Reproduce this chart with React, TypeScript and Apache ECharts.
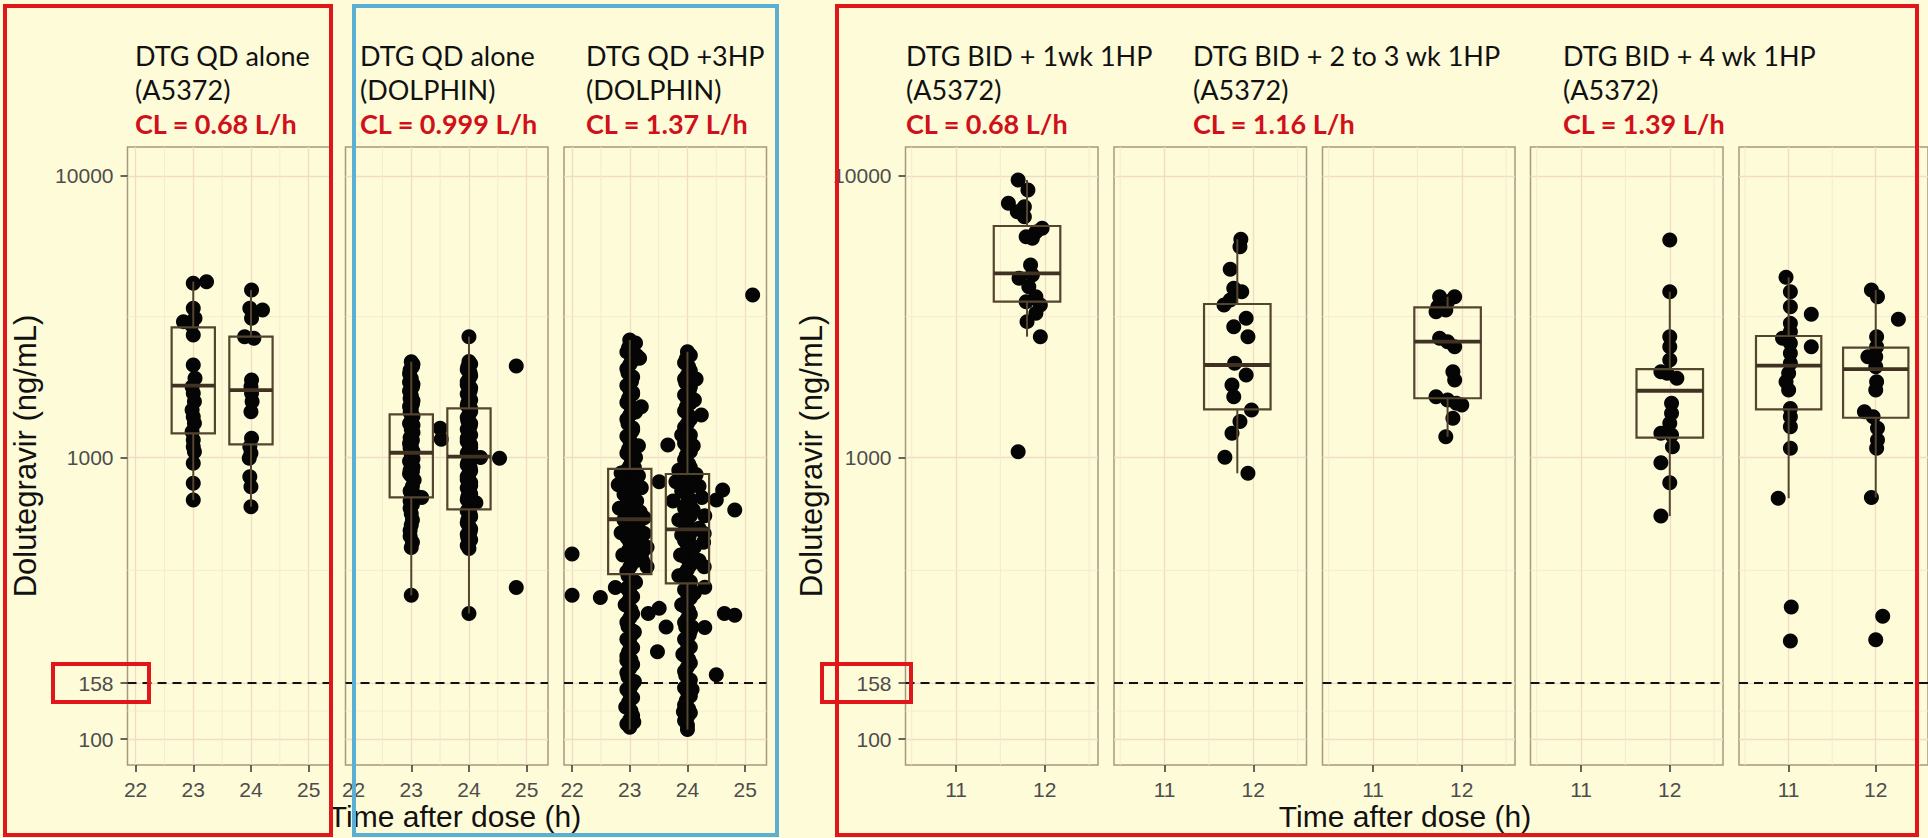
import { useEffect, useRef } from 'react';
import * as echarts from 'echarts';

// ---------------- data ----------------
const Y_TICKS = [100, 158, 1000, 10000];
const Y_MINOR = [125.7, 397, 3162];
const THRESHOLD = 158;
const LEFT_X_TICKS = [22, 23, 24, 25];
const LEFT_X_MINOR = [22.5, 23.5, 24.5];
const RIGHT_X_TICKS = [11, 12];
const RIGHT_X_MINOR = [10.5, 11.5, 12.5];

const X_TITLE = 'Time after dose (h)';
const Y_TITLE = 'Dolutegravir (ng/mL)';

const FACET_LINE1 = ['DTG QD alone', 'DTG QD alone', 'DTG QD +3HP', 'DTG BID + 1wk 1HP', 'DTG BID + 2 to 3 wk 1HP', 'DTG BID + 4 wk 1HP'];
const FACET_LINE2 = ['(A5372)', '(DOLPHIN)', '(DOLPHIN)', '(A5372)', '(A5372)', '(A5372)'];
const FACET_CL = ['CL = 0.68 L/h', 'CL = 0.999 L/h', 'CL = 1.37 L/h', 'CL = 0.68 L/h', 'CL = 1.16 L/h', 'CL = 1.39 L/h'];

// boxes: [x, min, q1, median, q3, max]
const qdA5372Boxes = [[23.0, 706, 1218, 1797, 2897, 4207], [24.0, 668, 1113, 1734, 2684, 3931]];
const qdA5372Points = [
  [23.0, 4150], [23.23, 4207], [23.0, 3384], [23.03, 3120], [22.83, 3035], [22.97, 2953], [23.0, 2720],
  [23.0, 2129], [23.03, 1910], [22.98, 1783], [23.0, 1689], [23.02, 1578], [22.98, 1473], [23.0, 1395],
  [23.02, 1321], [22.98, 1234], [23.0, 1153], [23.0, 1092], [23.02, 1048], [23.0, 953], [23.0, 809], [23.0, 706],
  [24.01, 3931], [23.98, 3384], [24.2, 3337], [24.01, 3120], [23.89, 2684], [24.05, 2649], [24.01, 1884],
  [24.0, 1783], [24.01, 1689], [24.02, 1578], [24.0, 1452], [24.01, 1169], [23.98, 1092], [24.0, 1034],
  [23.97, 993], [23.98, 854], [24.0, 787], [24.0, 668]
];

const qdDolBoxes = [[23.0, 324, 721, 1039, 1422, 2188], [24.0, 279, 654, 1006, 1493, 2684]];
const qdDolPoints = [
  [23.0, 2188], [22.98, 2042], [23.02, 2100], [23.0, 1905], [22.97, 1850], [23.02, 1778], [23.0, 1660],
  [22.98, 1620], [23.02, 1549], [23.0, 1480], [22.98, 1445], [23.0, 1349], [23.03, 1300], [23.0, 1259],
  [22.98, 1175], [23.02, 1150], [23.0, 1096], [22.98, 1080], [23.0, 1023], [23.03, 990], [23.0, 955],
  [22.98, 900], [23.02, 891], [23.0, 860], [23.05, 832], [23.0, 741], [23.1, 726], [23.18, 720], [22.98, 700],
  [23.0, 631], [23.0, 575], [22.98, 525], [23.0, 479], [23.0, 324],
  [23.03, 2140], [22.97, 1980], [23.03, 1820], [22.97, 1720], [23.03, 1590], [22.97, 1515], [23.03, 1400],
  [22.97, 1320], [23.03, 1225], [22.97, 1120], [23.03, 1050], [22.97, 970], [23.03, 925], [22.97, 875],
  [23.02, 790], [22.98, 760], [23.02, 680], [22.98, 660], [23.02, 600], [22.98, 550], [23.02, 500],
  [23.5, 1270], [23.52, 1160], [24.82, 2111], [24.53, 993], [24.82, 345],
  [24.0, 2684], [24.0, 2190], [23.98, 2100], [24.02, 2000], [24.0, 1900], [23.97, 1810], [24.02, 1720],
  [24.0, 1640], [23.98, 1560], [24.03, 1490], [24.0, 1420], [23.98, 1350], [24.02, 1290], [24.0, 1230],
  [23.97, 1170], [24.03, 1110], [24.0, 1060], [24.1, 1006], [24.2, 1000], [23.98, 960], [24.02, 920],
  [24.0, 875], [23.97, 835], [24.03, 795], [24.0, 760], [23.98, 725], [24.12, 690], [24.0, 660], [24.02, 630],
  [23.98, 600], [24.0, 570], [24.02, 545], [23.98, 520], [24.0, 500], [24.0, 475], [24.0, 279],
  [24.03, 2145], [23.97, 2050], [24.03, 1950], [23.97, 1855], [24.03, 1765], [23.97, 1680], [24.03, 1600],
  [23.97, 1525], [24.03, 1455], [23.97, 1385], [24.03, 1320], [23.97, 1260], [24.03, 1200], [23.97, 1140],
  [24.03, 1085], [23.97, 1035], [24.03, 985], [23.97, 940], [24.03, 897], [23.97, 855], [24.03, 815],
  [23.97, 778], [24.03, 742], [23.97, 708], [24.03, 675], [23.97, 645], [24.03, 615], [23.97, 585],
  [24.03, 557], [23.97, 532], [24.03, 510], [23.97, 487]
];

const qd3hpBoxes = [[23.0, 108, 385, 603, 910, 2612], [24.0, 108, 357, 555, 873, 2374]];
const qd3hpPoints = [
  [23.0, 2612], [22.98, 2455], [23.02, 2291], [23.0, 2138], [22.97, 1995], [23.03, 1862], [23.0, 1738],
  [22.98, 1622], [23.02, 1514], [23.0, 1413], [22.97, 1318], [23.03, 1230], [23.0, 1148], [22.98, 1072],
  [23.02, 1000], [23.0, 933], [22.97, 871], [23.03, 813], [23.0, 759], [22.98, 708], [23.02, 661], [23.0, 617],
  [22.97, 575], [23.03, 537], [23.0, 501], [22.98, 468], [23.02, 437], [23.0, 407], [22.97, 380], [23.03, 355],
  [23.0, 331], [22.98, 309], [23.02, 288], [23.0, 269], [22.97, 251], [23.03, 234], [23.0, 219], [22.98, 204],
  [23.02, 191], [23.0, 178], [22.97, 166], [23.03, 155], [23.0, 145], [22.98, 135], [23.02, 126], [23.0, 117],
  [23.0, 110],
  [23.05, 2530], [22.95, 2370], [23.05, 2210], [22.95, 2065], [23.05, 1930], [22.95, 1800], [23.05, 1680],
  [22.95, 1567], [23.05, 1462], [22.95, 1365], [23.05, 1273], [22.95, 1188], [23.05, 1109], [22.95, 1035],
  [23.05, 966], [22.95, 901], [23.05, 841], [22.95, 785], [23.05, 733], [22.95, 684], [23.05, 639],
  [22.95, 596], [23.05, 556], [22.95, 519], [23.05, 484], [22.95, 452], [23.05, 422], [22.95, 393],
  [23.05, 367], [22.95, 343], [23.05, 320], [22.95, 298], [23.05, 278], [22.95, 260], [23.05, 242],
  [22.95, 226], [23.05, 211], [22.95, 197], [23.05, 184], [22.95, 172], [23.05, 160], [22.95, 150],
  [23.05, 140], [22.95, 130], [23.05, 121], [22.95, 113],
  [22.85, 880], [23.15, 860], [22.8, 800], [23.2, 780], [22.9, 740], [23.12, 700], [22.82, 660], [23.18, 640],
  [23.25, 610], [22.9, 600], [23.12, 570], [22.85, 540], [23.2, 520], [23.3, 480], [22.88, 450], [23.22, 430],
  [23.3, 409], [23.15, 560], [22.92, 650], [23.08, 920], [23.1, 1000], [23.15, 1100], [23.05, 1250],
  [23.1, 1450], [23.05, 1700], [23.12, 2300], [23.1, 2550], [23.17, 2250], [23.2, 1514], [22.75, 345],
  [23.1, 360], [22.92, 300], [23.08, 240], [22.95, 190], [23.08, 160], [22.93, 130], [23.07, 115],
  [22.0, 454], [22.0, 324], [22.49, 318], [23.32, 279], [23.51, 291], [23.63, 250], [23.48, 204],
  [23.66, 1107], [23.51, 820], [23.22, 462], [23.25, 537],
  [24.0, 2374], [23.98, 2240], [24.02, 2100], [24.0, 1960], [23.97, 1840], [24.03, 1720], [24.0, 1610],
  [23.98, 1510], [24.02, 1410], [24.0, 1320], [23.97, 1240], [24.03, 1160], [24.0, 1085], [23.98, 1015],
  [24.02, 950], [24.0, 890], [23.97, 830], [24.03, 780], [24.0, 730], [23.98, 680], [24.02, 640], [24.0, 600],
  [23.97, 560], [24.03, 525], [24.0, 490], [23.98, 460], [24.02, 430], [24.0, 400], [23.97, 375], [24.03, 350],
  [24.0, 328], [23.98, 306], [24.02, 286], [24.0, 268], [23.97, 250], [24.03, 234], [24.0, 219], [23.98, 205],
  [24.02, 192], [24.0, 180], [23.97, 168], [24.03, 157], [24.0, 147], [23.98, 137], [24.02, 128], [24.0, 120],
  [24.0, 112], [24.0, 108],
  [24.05, 2305], [23.95, 2170], [24.05, 2030], [23.95, 1900], [24.05, 1780], [23.95, 1665], [24.05, 1560],
  [23.95, 1460], [24.05, 1365], [23.95, 1280], [24.05, 1200], [23.95, 1122], [24.05, 1050], [23.95, 982],
  [24.05, 920], [23.95, 860], [24.05, 805], [23.95, 755], [24.05, 705], [23.95, 660], [24.05, 620],
  [23.95, 580], [24.05, 542], [23.95, 507], [24.05, 475], [23.95, 445], [24.05, 415], [23.95, 387],
  [24.05, 362], [23.95, 339], [24.05, 317], [23.95, 296], [24.05, 277], [23.95, 259], [24.05, 242],
  [23.95, 226], [24.05, 212], [23.95, 198], [24.05, 186], [23.95, 174], [24.05, 162], [23.95, 152],
  [24.05, 142], [23.95, 132], [24.05, 124], [23.95, 116],
  [23.85, 900], [24.15, 870], [23.8, 820], [24.2, 790], [23.9, 760], [24.25, 720], [23.75, 700], [24.1, 650],
  [24.3, 620], [23.85, 600], [24.2, 560], [23.9, 530], [24.28, 500], [24.12, 480], [23.88, 450], [24.2, 430],
  [24.24, 1415], [24.15, 1900], [24.12, 1600], [23.85, 380], [23.9, 300], [24.12, 330], [24.1, 1100],
  [23.9, 1200], [24.08, 250], [23.92, 200], [24.08, 150], [23.93, 125],
  [24.61, 766], [24.5, 706], [24.82, 651], [24.29, 409], [24.3, 346], [24.3, 249], [24.64, 279], [24.82, 275],
  [24.5, 169], [24.29, 537], [25.13, 3773]
];

const bid1wkBoxes = [[11.8, 2684, 3573, 4506, 6633, 9660]];
const bid1wkPoints = [
  [11.70, 9660], [11.81, 8906], [11.59, 7985], [11.77, 7766], [11.69, 7457], [11.77, 7161], [11.97, 6510],
  [11.90, 6318], [11.79, 6080], [11.86, 5998], [11.84, 4823], [11.71, 4327], [11.86, 4446], [11.82, 4037],
  [11.90, 3721], [11.79, 3573], [11.95, 3477], [11.90, 3249], [11.80, 3035], [11.95, 2684], [11.70, 1048]
];

const bid23wkABoxes = [[11.82, 878, 1482, 2129, 3505, 5950]];
const bid23wkAPoints = [
  [11.86, 5950], [11.85, 5598], [11.74, 4656], [11.78, 3984], [11.87, 3877], [11.74, 3622], [11.67, 3477],
  [11.92, 3120], [11.78, 2911], [11.94, 2684], [11.79, 2160], [11.92, 1962], [11.76, 1807], [11.78, 1643],
  [11.98, 1473], [11.85, 1340], [11.76, 1218], [11.68, 1001], [11.94, 878]
];

const bid23wkBBoxes = [[11.84, 1184, 1622, 2577, 3412, 3721]];
const bid23wkBPoints = [
  [11.75, 3721], [11.92, 3721], [11.84, 3573], [11.73, 3428], [11.71, 3293], [11.82, 3337], [11.75, 2649],
  [11.84, 2577], [11.92, 2473], [11.90, 2015], [11.92, 1884], [11.71, 1643], [11.84, 1600], [11.94, 1556],
  [12.0, 1535], [11.90, 1377], [11.82, 1184]
];

const bid4wkABoxes = [[12.0, 619, 1175, 1725, 2058, 3877]];
const bid4wkAPoints = [
  [12.0, 5916], [12.0, 3877], [12.0, 2684], [12.0, 2473], [12.0, 2218], [11.9, 2015], [11.97, 1989],
  [12.08, 1910], [12.02, 1556], [12.02, 1434], [12.0, 1321], [11.9, 1218], [12.02, 1201], [12.03, 1092],
  [11.9, 957], [12.0, 813], [11.9, 619]
];

const bid4wkBBoxes = [[11.0, 716, 1482, 2117, 2698, 4361], [12.0, 721, 1383, 2058, 2455, 3931]];
const bid4wkBPoints = [
  [10.97, 4361], [11.02, 3877], [11.02, 3428], [11.26, 3221], [11.02, 2992], [11.02, 2796], [10.93, 2649],
  [11.02, 2541], [11.26, 2473], [11.02, 2343], [11.02, 2160], [11.0, 1989], [10.97, 1858], [11.0, 1734],
  [11.02, 1493], [11.02, 1395], [11.02, 1285], [11.02, 1077], [10.88, 716], [11.03, 294], [11.02, 223],
  [11.95, 3931], [12.02, 3721], [12.26, 3092], [12.01, 2684], [12.01, 2473], [11.91, 2279], [12.0, 2279],
  [12.0, 2099], [12.01, 1858], [12.0, 1734], [11.87, 1452], [11.97, 1395], [12.02, 1269], [12.02, 1153],
  [12.01, 1077], [11.95, 721], [12.08, 273], [12.0, 225]
];

// ---------------- layout / style ----------------
const W = 1928;
const H = 838;
const BG = '#FEFBD8';
const BORDER = '#A8987C';
const GRID_MAJOR = '#F1DDC6';
const GRID_MINOR = '#F5E8D1';
const BOX_COLOR = '#54452F';
const AXIS_TEXT = '#4D4D4D';
const RED = '#E0161B';
const BLUE = '#5AAFD2';
const Y_MIN = 80.85;
const Y_MAX = 12656;
const PANEL_TOP = 147;
const PANEL_H = 618;
const BOX_HALF = 0.375;

type Panel = {
  left: number; width: number; xMin: number; xMax: number;
  xTicks: number[]; xMinor: number[]; points: number[][]; boxes: number[][]; showY: boolean;
};

const LW = 202.5;
const RW = 192.5;
const panels: Panel[] = [
  { left: 127.5, width: LW, xMin: 21.86, xMax: 25.37, xTicks: LEFT_X_TICKS, xMinor: LEFT_X_MINOR, points: qdA5372Points, boxes: qdA5372Boxes, showY: true },
  { left: 345.5, width: LW, xMin: 21.86, xMax: 25.37, xTicks: LEFT_X_TICKS, xMinor: LEFT_X_MINOR, points: qdDolPoints, boxes: qdDolBoxes, showY: false },
  { left: 564, width: LW, xMin: 21.86, xMax: 25.37, xTicks: LEFT_X_TICKS, xMinor: LEFT_X_MINOR, points: qd3hpPoints, boxes: qd3hpBoxes, showY: false },
  { left: 905.5, width: RW, xMin: 10.43, xMax: 12.6, xTicks: RIGHT_X_TICKS, xMinor: RIGHT_X_MINOR, points: bid1wkPoints, boxes: bid1wkBoxes, showY: true },
  { left: 1114, width: RW, xMin: 10.43, xMax: 12.6, xTicks: RIGHT_X_TICKS, xMinor: RIGHT_X_MINOR, points: bid23wkAPoints, boxes: bid23wkABoxes, showY: false },
  { left: 1322.5, width: RW, xMin: 10.43, xMax: 12.6, xTicks: RIGHT_X_TICKS, xMinor: RIGHT_X_MINOR, points: bid23wkBPoints, boxes: bid23wkBBoxes, showY: false },
  { left: 1530.5, width: RW, xMin: 10.43, xMax: 12.6, xTicks: RIGHT_X_TICKS, xMinor: RIGHT_X_MINOR, points: bid4wkAPoints, boxes: bid4wkABoxes, showY: false },
  { left: 1739, width: RW, xMin: 10.43, xMax: 12.6, xTicks: RIGHT_X_TICKS, xMinor: RIGHT_X_MINOR, points: bid4wkBPoints, boxes: bid4wkBBoxes, showY: false },
];

const FACET_X = [135, 360, 586, 906, 1193, 1563];
const FACET_Y = [55, 89, 123];

function renderGridLines(params: any, api: any) {
  const kind = api.value(0);
  const p = api.coord([api.value(1), api.value(2)]);
  const cs = params.coordSys;
  if (kind === 0) {
    return { type: 'line', shape: { x1: p[0], y1: cs.y, x2: p[0], y2: cs.y + cs.height }, style: { stroke: GRID_MINOR, lineWidth: 0.9 } };
  }
  if (kind === 1) {
    return { type: 'line', shape: { x1: cs.x, y1: p[1], x2: cs.x + cs.width, y2: p[1] }, style: { stroke: GRID_MINOR, lineWidth: 0.9 } };
  }
  return { type: 'line', shape: { x1: cs.x, y1: p[1], x2: cs.x + cs.width, y2: p[1] }, style: { stroke: '#111', lineWidth: 2, lineDash: [9, 6] } };
}

function renderBox(_params: any, api: any) {
  const x = api.value(0);
  const med = api.value(3);
  const cx = api.coord([x, med])[0];
  const xl = api.coord([x - BOX_HALF, med])[0];
  const xr = api.coord([x + BOX_HALF, med])[0];
  const yMin = api.coord([x, api.value(1)])[1];
  const yQ1 = api.coord([x, api.value(2)])[1];
  const yMed = api.coord([x, med])[1];
  const yQ3 = api.coord([x, api.value(4)])[1];
  const yMax = api.coord([x, api.value(5)])[1];
  return {
    type: 'group',
    children: [
      { type: 'line', shape: { x1: cx, y1: yMax, x2: cx, y2: yQ3 }, style: { stroke: BOX_COLOR, lineWidth: 2 } },
      { type: 'line', shape: { x1: cx, y1: yQ1, x2: cx, y2: yMin }, style: { stroke: BOX_COLOR, lineWidth: 2 } },
      { type: 'rect', shape: { x: xl, y: yQ3, width: xr - xl, height: yQ1 - yQ3 }, style: { fill: 'none', stroke: BOX_COLOR, lineWidth: 2.2 } },
      { type: 'line', shape: { x1: xl, y1: yMed, x2: xr, y2: yMed }, style: { stroke: '#3F3222', lineWidth: 3.8 } },
    ],
  };
}

function buildOption() {
  const grid: any[] = [];
  const xAxis: any[] = [];
  const yAxis: any[] = [];
  const series: any[] = [];
  panels.forEach((p, i) => {
    grid.push({ left: p.left, top: PANEL_TOP, width: p.width, height: PANEL_H, show: true, backgroundColor: BG, borderColor: BORDER, borderWidth: 1.5 });
    xAxis.push({
      type: 'value', gridIndex: i, min: p.xMin, max: p.xMax,
      axisLine: { show: false },
      axisTick: { show: true, length: 7, lineStyle: { color: '#333', width: 1.5 }, customValues: p.xTicks },
      axisLabel: { customValues: p.xTicks, margin: 14, fontSize: 21, color: AXIS_TEXT, fontFamily: 'Liberation Sans' },
      splitLine: { show: true, lineStyle: { color: GRID_MAJOR, width: 1.3 } },
    });
    yAxis.push({
      type: 'log', logBase: 10, gridIndex: i, min: Y_MIN, max: Y_MAX,
      axisLine: { show: false },
      axisTick: { show: p.showY, length: 7, lineStyle: { color: '#333', width: 1.5 }, customValues: Y_TICKS },
      axisLabel: { show: p.showY, customValues: Y_TICKS, margin: 14, fontSize: 21, color: AXIS_TEXT, fontFamily: 'Liberation Sans', formatter: (v: number) => String(Math.round(v)) },
      splitLine: { show: true, lineStyle: { color: GRID_MAJOR, width: 1.3 } },
    });
    const lines: number[][] = [];
    p.xMinor.forEach((v) => lines.push([0, v, 1000]));
    Y_MINOR.forEach((v) => lines.push([1, p.xTicks[0], v]));
    lines.push([2, p.xTicks[0], THRESHOLD]);
    series.push({
      type: 'custom', xAxisIndex: i, yAxisIndex: i, z: 1, silent: true, clip: true,
      encode: { x: 1, y: 2 }, data: lines, renderItem: renderGridLines,
    });
    series.push({
      type: 'scatter', xAxisIndex: i, yAxisIndex: i, z: 2, silent: true,
      symbol: 'circle', symbolSize: 15, itemStyle: { color: '#050505', opacity: 1 }, data: p.points,
    });
    series.push({
      type: 'custom', xAxisIndex: i, yAxisIndex: i, z: 3, silent: true,
      encode: { x: 0, y: [1, 2, 3, 4, 5] }, data: p.boxes, renderItem: renderBox,
    });
  });

  const graphic: any[] = [];
  FACET_X.forEach((fx, k) => {
    graphic.push({ type: 'text', x: fx, y: FACET_Y[0], silent: true, style: { text: FACET_LINE1[k], fontSize: 27, fontFamily: 'Lato', fill: '#111', align: 'left', verticalAlign: 'middle' } });
    graphic.push({ type: 'text', x: fx, y: FACET_Y[1], silent: true, style: { text: FACET_LINE2[k], fontSize: 27, fontFamily: 'Lato', fill: '#111', align: 'left', verticalAlign: 'middle' } });
    graphic.push({ type: 'text', x: fx, y: FACET_Y[2], silent: true, style: { text: FACET_CL[k], fontSize: 27, fontWeight: 'bold', fontFamily: 'Lato', fill: '#D0101A', align: 'left', verticalAlign: 'middle' } });
  });
  graphic.push({ type: 'text', x: 25, y: 456, rotation: Math.PI / 2, silent: true, style: { text: Y_TITLE, fontSize: 31, fontFamily: 'Liberation Sans', fill: '#111', align: 'center', verticalAlign: 'middle' } });
  graphic.push({ type: 'text', x: 811, y: 456, rotation: Math.PI / 2, silent: true, style: { text: Y_TITLE, fontSize: 31, fontFamily: 'Liberation Sans', fill: '#111', align: 'center', verticalAlign: 'middle' } });
  graphic.push({ type: 'text', x: 455, y: 816, silent: true, style: { text: X_TITLE, fontSize: 30, fontFamily: 'Liberation Sans', fill: '#111', align: 'center', verticalAlign: 'middle' } });
  graphic.push({ type: 'text', x: 1405, y: 816, silent: true, style: { text: X_TITLE, fontSize: 30, fontFamily: 'Liberation Sans', fill: '#111', align: 'center', verticalAlign: 'middle' } });

  const rect = (x: number, y: number, w: number, h: number, c: string) => ({
    type: 'rect', z: 100, silent: true, shape: { x, y, width: w, height: h }, style: { fill: 'none', stroke: c, lineWidth: 4 },
  });
  graphic.push(rect(5, 6, 326, 829, RED));
  graphic.push(rect(354, 6, 423, 829, BLUE));
  graphic.push(rect(837, 6, 1080, 829, RED));
  graphic.push(rect(53, 664, 96, 38, RED));
  graphic.push(rect(822, 664, 89, 38, RED));

  return {
    animation: false,
    backgroundColor: BG,
    grid, xAxis, yAxis, series, graphic,
  };
}

export default function App() {
  const ref = useRef<HTMLDivElement>(null);
  useEffect(() => {
    document.body.style.margin = '0';
    if (!ref.current) return;
    const chart = echarts.init(ref.current, null, { renderer: 'svg', width: W, height: H });
    chart.setOption(buildOption() as any);
    return () => chart.dispose();
  }, []);
  return <div ref={ref} style={{ position: 'absolute', left: 0, top: 0, width: W, height: H, background: BG }} />;
}
